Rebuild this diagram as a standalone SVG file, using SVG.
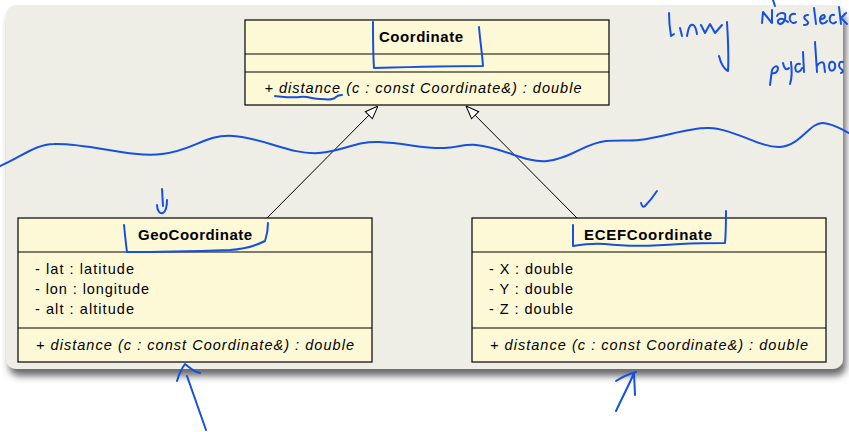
<svg xmlns="http://www.w3.org/2000/svg" width="849" height="432" viewBox="0 0 849 432">
<defs>
<filter id="sh" x="-5%" y="-5%" width="115%" height="120%">
<feDropShadow dx="3" dy="7" stdDeviation="3.5" flood-color="#3a3a3a" flood-opacity="0.75"/>
</filter>
<marker id="tri" viewBox="0 0 14 12" markerUnits="userSpaceOnUse" markerWidth="14" markerHeight="12" refX="14" refY="6" orient="auto">
<path d="M1,1 L14,6 L1,11 z" fill="#ffffff" stroke="#000" stroke-width="1"/>
</marker>
</defs>
<style>
.box{fill:#fdf9d6;stroke:#000;stroke-width:1.2}
.sep{stroke:#000;stroke-width:1.2}
.t{font-family:"Liberation Sans","DejaVu Sans",sans-serif;fill:#000}
.title{font-size:15px;font-weight:bold;text-anchor:middle}
.meth{font-size:14.5px;font-style:italic;text-anchor:middle}
.attr{font-size:14.5px}
.conn{stroke:#000;stroke-width:1;fill:none}
.ink{fill:none;stroke:#1650e0;stroke-width:2;stroke-linecap:round;stroke-linejoin:round}
</style>
<rect width="849" height="432" fill="#ffffff"/>
<rect x="6" y="5" width="837" height="364" rx="10" fill="#eeeee6" filter="url(#sh)"/>

<g id="connectors">
<path class="conn" d="M267,218 L378,106" marker-end="url(#tri)"/>
<path class="conn" d="M577,218 L466,106" marker-end="url(#tri)"/>
</g>

<g id="Coordinate">
<rect class="box" x="245" y="20" width="364" height="85"/>
<line class="sep" x1="245" y1="54" x2="609" y2="54"/>
<line class="sep" x1="245" y1="72" x2="609" y2="72"/>
<text class="t title" x="421" y="42" textLength="84" lengthAdjust="spacing">Coordinate</text>
<text class="t meth" x="423" y="93" textLength="317" lengthAdjust="spacing">+ distance (c : const Coordinate&amp;) : double</text>
</g>

<g id="GeoCoordinate">
<rect class="box" x="18" y="218" width="354" height="144"/>
<line class="sep" x1="18" y1="252" x2="372" y2="252"/>
<line class="sep" x1="18" y1="328" x2="372" y2="328"/>
<text class="t title" x="195" y="240" textLength="114" lengthAdjust="spacing">GeoCoordinate</text>
<text class="t attr" x="35" y="274" textLength="99" lengthAdjust="spacing">- lat : latitude</text>
<text class="t attr" x="35" y="294" textLength="114" lengthAdjust="spacing">- lon : longitude</text>
<text class="t attr" x="35" y="314" textLength="99" lengthAdjust="spacing">- alt : altitude</text>
<text class="t meth" x="195" y="350" textLength="318" lengthAdjust="spacing">+ distance (c : const Coordinate&amp;) : double</text>
</g>

<g id="ECEFCoordinate">
<rect class="box" x="472" y="218" width="354" height="144"/>
<line class="sep" x1="472" y1="252" x2="826" y2="252"/>
<line class="sep" x1="472" y1="328" x2="826" y2="328"/>
<text class="t title" x="648" y="240" textLength="128" lengthAdjust="spacing">ECEFCoordinate</text>
<text class="t attr" x="489" y="274" textLength="84" lengthAdjust="spacing">- X : double</text>
<text class="t attr" x="489" y="294" textLength="84" lengthAdjust="spacing">- Y : double</text>
<text class="t attr" x="489" y="314" textLength="84" lengthAdjust="spacing">- Z : double</text>
<text class="t meth" x="649" y="350" textLength="318" lengthAdjust="spacing">+ distance (c : const Coordinate&amp;) : double</text>
</g>

<g id="annotations">
<path class="ink" d="M0,166 C20,158 35,144 54,144 C90,143 130,158 162,154 C195,150 205,134 233,136 C265,138 290,155 319,153 C345,151 355,141 379,142 C405,143 425,149 444,148 C458,147 466,144 476,145 C505,148 525,163 547,161 C570,159 585,143 606,141 C620,140 630,141 639,140 C665,137 690,127 709,128 C735,129 760,148 780,147 C800,146 810,122 823,123 C835,124 842,130 849,133"/>
<path class="ink" d="M373,22 C373,40 373,55 374,68 C410,67 450,66 483,66 C482,52 480,40 479,27"/>
<path class="ink" d="M275,96 C285,97 292,98 300,97 C308,96 313,99 320,99 C327,99 332,101 336,97 C338,95 340,95 342,95"/>
<path class="ink" d="M124,225 C125,235 126,245 127,252 C160,252 200,251 230,250 C245,249 255,246 265,241 C267,235 268,229 268,223"/>
<path class="ink" d="M162,189 L163,206 M157,205 C157,211 160,214 163,213 C166,211 167,205 167,200"/>
<path class="ink" d="M573,225 L573,246 C585,244 595,243 605,244 C630,247 655,246 680,244 C700,243 715,243 725,243 C726,232 726,222 726,211"/>
<path class="ink" d="M641,203 C642,206 643,208 645,206 C649,202 653,197 657,191"/>
<path class="ink" d="M187,376 L206,430 M177,381 C179,374 182,368 185,364 C189,367 194,372 200,373"/>
<path class="ink" d="M616,411 C622,398 629,385 634,373 L635,395 M616,381 C622,377 629,374 636,372"/>
<path class="ink" d="M669,13 C669,22 670,30 671,36 L674,34 M680,28 L682,36 M687,36 C688,30 689,26 691,25 C694,24 696,27 697,34 M701,25 L705,33 L710,24 L715,33 L722,25 M727,22 C728,40 729,55 728,71 M719,56 C721,64 724,69 728,71"/>
<path class="ink" d="M773,0 L775,6 M762,23 L763,12 L772,23 L772,10 M777,16 C778,13 783,12 785,14 C786,18 784,24 780,24 C777,23 777,20 780,19 C783,18 786,20 788,22 M795,14 C791,13 789,16 790,20 C791,23 794,24 796,22 M808,15 C804,15 803,18 806,20 C809,22 809,25 804,25 M814,8 L816,24 M821,19 C824,19 826,17 824,15 C820,15 819,20 821,23 C823,24 826,23 827,21 M834,15 C831,14 829,17 830,21 C831,24 834,24 836,22 M839,7 L841,24 M841,18 L846,13 M841,18 L847,24"/>
<path class="ink" d="M770,85 L772,70 C774,66 777,65 778,68 C778,72 775,74 772,73 M783,63 C784,68 786,71 789,68 M791,62 C792,70 792,78 790,84 M800,64 C796,63 794,67 796,71 C798,73 801,71 802,68 M803,52 L804,72 M815,42 L817,72 M817,66 C819,62 823,61 824,64 L825,72 M833,62 C829,61 828,66 830,70 C833,72 836,69 835,64 C834,62 833,62 833,62 M843,62 C839,61 838,65 840,68 C843,70 844,72 841,73"/>
</g>
</svg>
